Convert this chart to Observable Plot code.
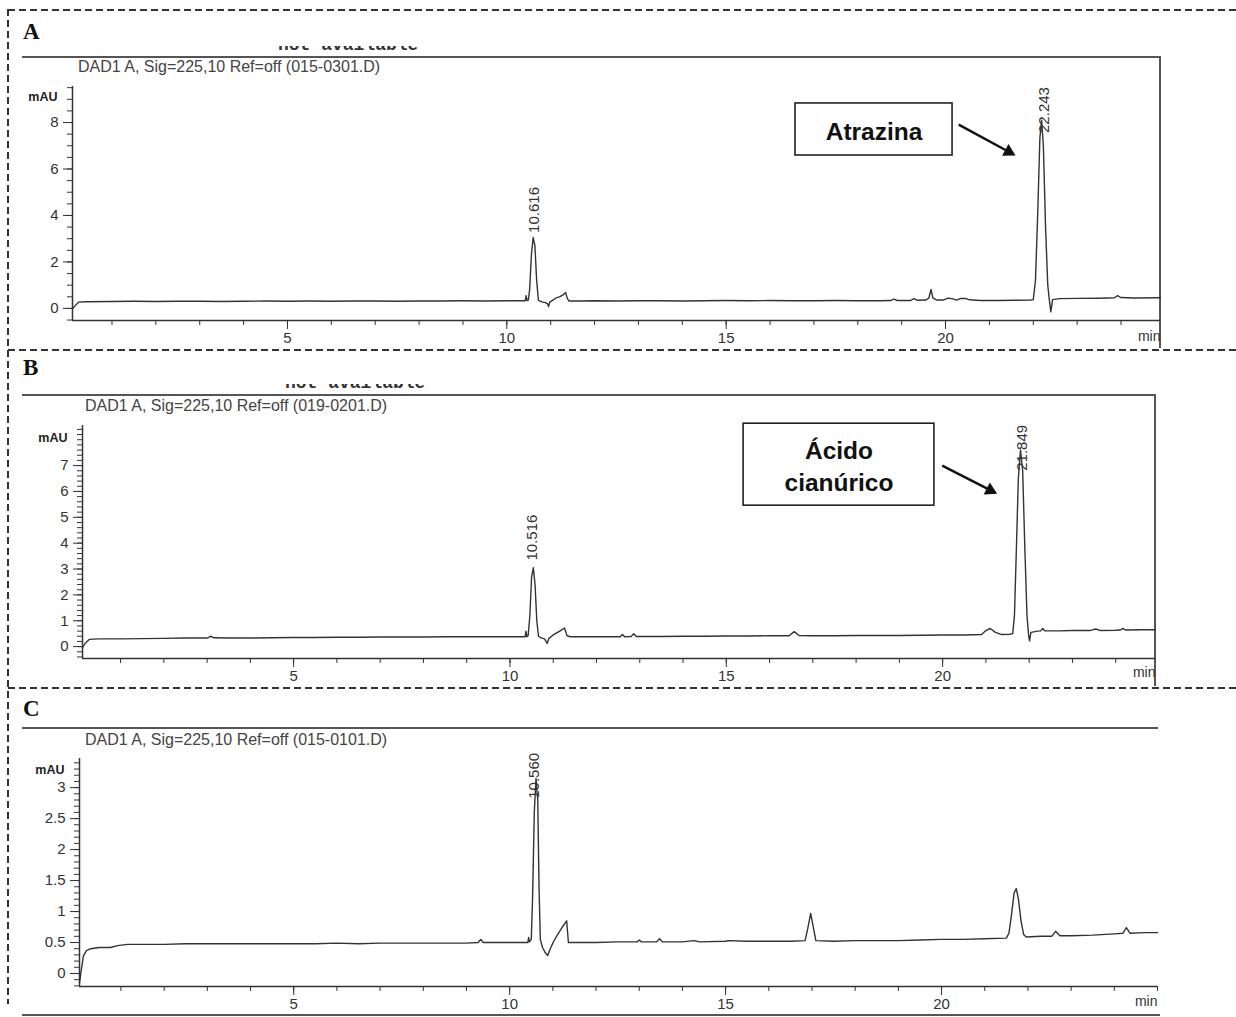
<!DOCTYPE html>
<html><head><meta charset="utf-8">
<script src="https://cdn.jsdelivr.net/npm/d3@7"></script>
<script src="https://cdn.jsdelivr.net/npm/@observablehq/plot@0.6"></script>
<style>
body{margin:0;background:#fff;}
#wrap{position:relative;width:1236px;height:1017px;overflow:hidden;font-family:"Liberation Sans",Arial,sans-serif;background:#fff;}
.hd{position:absolute;height:2px;background:repeating-linear-gradient(to right,#333 0 7px,transparent 7px 11px);}
.vd{position:absolute;width:2px;background:repeating-linear-gradient(to bottom,#333 0 7px,transparent 7px 11px);}
.letter{position:absolute;font-family:"Liberation Serif","Times New Roman",serif;font-weight:bold;font-size:23px;line-height:1;color:#111;}
.sig{position:absolute;font-size:16px;line-height:1;color:#444;white-space:nowrap;}
.fr{position:absolute;background:#555;}
.na{position:absolute;overflow:hidden;}
</style></head><body><div id="wrap"></div>
<script>
// ---------------- DATA ----------------
const panelLetters = ["A", "B", "C"];
const signalTitles = [
  "DAD1 A, Sig=225,10 Ref=off (015-0301.D)",
  "DAD1 A, Sig=225,10 Ref=off (019-0201.D)",
  "DAD1 A, Sig=225,10 Ref=off (015-0101.D)"
];
const xTickLabels = [5, 10, 15, 20];
const yTicksA = [0, 2, 4, 6, 8];
const yTicksB = [0, 1, 2, 3, 4, 5, 6, 7];
const yTicksC = [0, 0.5, 1, 1.5, 2, 2.5, 3];

// retention time (min), signal (mAU)
const traceA = [
  [0.10,-0.02],[0.16,0.12],[0.24,0.27],[0.40,0.29],[1.0,0.30],[1.5,0.31],[2.0,0.30],[2.5,0.31],[3.0,0.31],[3.5,0.30],
  [4.0,0.31],[4.5,0.32],[5.0,0.31],[5.5,0.32],[6.0,0.31],[6.5,0.32],[7.0,0.32],[7.5,0.31],[8.0,0.32],[8.5,0.32],
  [9.0,0.33],[9.5,0.32],[10.0,0.33],[10.3,0.33],[10.42,0.33],[10.44,0.55],[10.46,0.34],[10.49,0.36],[10.52,0.8],
  [10.56,2.3],[10.60,3.05],[10.64,2.7],[10.68,1.2],[10.72,0.35],[10.80,0.28],[10.88,0.25],[10.93,0.20],[10.95,0.08],
  [10.98,0.27],[11.05,0.36],[11.12,0.45],[11.20,0.50],[11.28,0.58],[11.34,0.68],[11.38,0.42],[11.42,0.32],[11.7,0.32],
  [12.0,0.33],[12.5,0.32],[13.0,0.33],[13.5,0.33],[14.0,0.32],[14.5,0.33],[15.0,0.34],[15.5,0.33],[16.0,0.34],
  [16.5,0.33],[17.0,0.33],[17.5,0.34],[18.0,0.33],[18.5,0.33],[18.75,0.34],[18.82,0.40],[18.9,0.34],[19.2,0.34],
  [19.28,0.42],[19.36,0.35],[19.55,0.36],[19.62,0.45],[19.67,0.82],[19.71,0.45],[19.8,0.36],[19.95,0.36],[20.05,0.44],
  [20.15,0.42],[20.25,0.36],[20.35,0.43],[20.45,0.43],[20.55,0.37],[20.8,0.34],[21.2,0.34],[21.6,0.35],[21.95,0.36],
  [22.00,0.38],[22.05,1.2],[22.10,4.0],[22.15,7.3],[22.19,8.1],[22.23,7.0],[22.28,3.5],[22.33,1.0],[22.37,0.3],
  [22.40,-0.15],[22.44,0.38],[22.6,0.42],[23.0,0.43],[23.5,0.44],[23.85,0.46],[23.92,0.55],[23.99,0.47],[24.3,0.45],[24.9,0.46]
];
const traceB = [
  [0.12,-0.05],[0.18,0.12],[0.28,0.28],[0.5,0.30],[1.0,0.30],[1.5,0.31],[2.0,0.32],[2.5,0.33],[3.0,0.33],[3.08,0.40],
  [3.16,0.34],[3.5,0.33],[4.0,0.33],[4.5,0.34],[5.0,0.35],[5.5,0.35],[6.0,0.36],[6.5,0.36],[7.0,0.37],[7.5,0.37],
  [8.0,0.37],[8.5,0.38],[9.0,0.38],[9.5,0.38],[10.0,0.38],[10.35,0.38],[10.37,0.6],[10.39,0.38],[10.42,0.42],
  [10.46,1.2],[10.50,2.7],[10.54,3.05],[10.58,2.4],[10.62,1.0],[10.66,0.4],[10.72,0.34],[10.80,0.30],[10.86,0.12],
  [10.90,0.32],[11.0,0.45],[11.1,0.55],[11.2,0.65],[11.26,0.72],[11.32,0.42],[11.4,0.38],[11.8,0.38],[12.2,0.38],
  [12.55,0.38],[12.6,0.47],[12.65,0.38],[12.8,0.39],[12.86,0.50],[12.92,0.39],[13.5,0.39],[14.0,0.40],[14.5,0.40],
  [15.0,0.41],[15.5,0.41],[16.0,0.42],[16.45,0.42],[16.57,0.58],[16.68,0.43],[17.0,0.42],[17.5,0.42],[18.0,0.43],
  [18.5,0.43],[19.0,0.43],[19.5,0.44],[20.0,0.45],[20.5,0.45],[20.9,0.47],[21.0,0.62],[21.1,0.70],[21.22,0.55],
  [21.35,0.47],[21.55,0.48],[21.62,0.50],[21.66,1.2],[21.70,3.5],[21.75,6.5],[21.80,7.6],[21.85,6.8],[21.90,3.8],
  [21.95,1.2],[21.99,0.4],[22.01,0.22],[22.04,0.55],[22.2,0.60],[22.27,0.61],[22.31,0.70],[22.36,0.61],[22.7,0.61],
  [23.0,0.62],[23.4,0.62],[23.54,0.68],[23.65,0.62],[24.0,0.63],[24.1,0.64],[24.16,0.70],[24.24,0.64],[24.6,0.65],[24.92,0.65]
];
const traceC = [
  [0.04,-0.15],[0.08,0.05],[0.13,0.28],[0.20,0.37],[0.30,0.40],[0.5,0.42],[0.76,0.42],[0.92,0.45],[1.15,0.47],
  [1.5,0.47],[2.0,0.47],[2.5,0.48],[3.0,0.48],[3.5,0.48],[4.0,0.48],[4.5,0.48],[5.0,0.48],[5.5,0.48],[6.0,0.49],
  [6.5,0.48],[7.0,0.49],[7.5,0.49],[8.0,0.49],[8.5,0.49],[9.0,0.49],[9.27,0.50],[9.33,0.55],[9.39,0.50],[9.8,0.50],
  [10.2,0.50],[10.42,0.50],[10.44,0.58],[10.46,0.51],[10.50,0.55],[10.53,1.2],[10.57,2.6],[10.61,3.15],[10.65,2.8],
  [10.68,1.4],[10.71,0.55],[10.76,0.42],[10.83,0.33],[10.88,0.29],[10.94,0.40],[11.02,0.52],[11.12,0.64],
  [11.22,0.75],[11.32,0.85],[11.36,0.50],[11.5,0.50],[12.0,0.50],[12.5,0.51],[12.95,0.51],[13.0,0.54],[13.05,0.51],
  [13.4,0.51],[13.47,0.56],[13.54,0.51],[14.0,0.51],[14.27,0.53],[14.4,0.51],[15.0,0.52],[15.06,0.53],[15.5,0.52],
  [16.0,0.52],[16.5,0.52],[16.84,0.53],[16.90,0.72],[16.97,0.97],[17.03,0.75],[17.09,0.53],[17.5,0.52],[18.0,0.53],
  [18.5,0.53],[19.0,0.53],[19.5,0.54],[20.0,0.55],[20.5,0.55],[21.0,0.56],[21.5,0.57],[21.56,0.65],[21.62,0.95],
  [21.68,1.30],[21.73,1.37],[21.78,1.20],[21.84,0.85],[21.90,0.63],[21.96,0.59],[22.3,0.60],[22.55,0.60],
  [22.64,0.68],[22.74,0.61],[23.0,0.61],[23.5,0.62],[24.0,0.64],[24.2,0.65],[24.28,0.74],[24.36,0.65],[24.7,0.66],[25.0,0.66]
];

const peakLabelsA = [{t: 10.616, y: 3.25, label: "10.616"}, {t: 22.243, y: 7.55, label: "22.243"}];
const peakLabelsB = [{t: 10.516, y: 3.33, label: "10.516"}, {t: 21.849, y: 6.8, label: "21.849"}];
const peakLabelsC = [{t: 10.560, y: 2.82, label: "10.560"}];

// annotation boxes and arrows (data units); arrow end = centre of its head
const boxA = [{x1: 16.58, x2: 20.16, y1: 6.58, y2: 8.82, text: "Atrazina"}];
const arrowA = [{x1: 20.30, y1: 7.91, x2: 21.44, y2: 6.74}];
const boxB = [{x1: 15.40, x2: 19.81, y1: 5.45, y2: 8.62, text: "Ácido\ncianúrico"}];
const arrowB = [{x1: 19.99, y1: 7.0, x2: 21.10, y2: 6.05}];

// ---------------- LAYOUT ----------------
const W = 1200;
const layouts = [
  {top: 50, h: 300, ml: 72, xr: 1160, mt: 36, mb: 30, xd: [0.1, 24.9], yd: [-0.52, 9.55], yStep: 0.5, mauDy: 6, minDy: 20, headRot: 118.5},
  {top: 390, h: 300, ml: 82, xr: 1155, mt: 35, mb: 32, xd: [0.12, 24.92], yd: [-0.46, 8.55], yStep: 0.2, mauDy: 8, minDy: 18, headRot: 117},
  {top: 725, h: 292, ml: 79, xr: 1157, mt: 33, mb: 31, xd: [0.04, 25.0], yd: [-0.21, 3.47], yStep: 0.1, mauDy: 7, minDy: 19, headRot: 0}
];
const panels = [
  {trace: traceA, peaks: peakLabelsA, yTicks: yTicksA, box: boxA, arrow: arrowA},
  {trace: traceB, peaks: peakLabelsB, yTicks: yTicksB, box: boxB, arrow: arrowB},
  {trace: traceC, peaks: peakLabelsC, yTicks: yTicksC, box: null, arrow: null}
];

const wrap = document.getElementById("wrap");
function div(cls, css, html) {
  const d = document.createElement("div");
  d.className = cls;
  Object.assign(d.style, css);
  if (html != null) d.innerHTML = html;
  wrap.appendChild(d);
  return d;
}

// dashed outlines
div("hd", {left: "8px", top: "9px", width: "1228px"});
div("vd", {left: "7px", top: "9px", height: "995px"});
div("hd", {left: "8px", top: "349px", width: "1228px"});
div("hd", {left: "8px", top: "687px", width: "1228px"});

// frames
div("fr", {left: "22px", top: "56px", width: "1139px", height: "2px"});
div("fr", {left: "1159px", top: "56px", width: "2px", height: "292px"});
div("fr", {left: "22px", top: "394px", width: "1134px", height: "2px"});
div("fr", {left: "1154px", top: "394px", width: "2px", height: "292px"});
div("fr", {left: "22px", top: "727px", width: "1136px", height: "2px"});
div("fr", {left: "22px", top: "1014px", width: "1138px", height: "2px"});

// panel letters and signal titles
const letterTops = [20, 356, 697];
const titlePos = [[78, 59], [85, 398], [85, 732]];
panelLetters.forEach((l, i) => div("letter", {left: "23px", top: letterTops[i] + "px"}, l));
signalTitles.forEach((s, i) => div("sig", {left: titlePos[i][0] + "px", top: titlePos[i][1] + "px"}, s));

// clipped "not available" remnants (only the lower part of the letters shows, as in the scan)
[[278, 46], [285, 384]].forEach(([x, y]) => {
  div("na", {left: x + "px", top: y + "px", width: "150px", height: "4px"},
    '<svg width="150" height="4" style="display:block"><text x="0" y="4" font-family="Liberation Mono, Courier New, monospace" font-weight="bold" font-size="18" fill="#333">not available</text></svg>');
});

panels.forEach((p, i) => {
  const L = layouts[i];
  const fmt = d => String(d);
  const marks = [
    Plot.ruleX([L.xd[0]], {stroke: "#333", strokeWidth: 1.5}),
    Plot.ruleY([L.yd[0]], {stroke: "#333", strokeWidth: 1.5}),
    Plot.axisY({ticks: d3.range(Math.ceil(L.yd[0] / L.yStep) * L.yStep, L.yd[1], L.yStep), tickSize: 5, tickFormat: () => "", label: null}),
    Plot.axisY({ticks: p.yTicks, tickSize: 9, tickPadding: 5, tickFormat: fmt, fontSize: 15, label: null}),
    Plot.axisX({ticks: d3.range(1, Math.floor(L.xd[1]) + 1), tickSize: 5, tickFormat: () => "", label: null}),
    Plot.axisX({ticks: xTickLabels, tickSize: 9, tickPadding: 3, tickFormat: fmt, fontSize: 15, label: null}),
    Plot.text(["mAU"], {frameAnchor: "top-left", dx: -15, dy: L.mauDy, textAnchor: "end", fontSize: 12.5, fontWeight: "bold", fill: "#222"}),
    Plot.text(["min"], {frameAnchor: "bottom-right", dy: L.minDy, textAnchor: "end", fontSize: 14, fill: "#333"}),
    Plot.line(p.trace, {x: d => d[0], y: d => d[1], stroke: "#333", strokeWidth: 1.4}),
    Plot.text(p.peaks, {x: "t", y: "y", text: "label", rotate: -90, textAnchor: "start", fontSize: 15, fill: "#333"})
  ];
  if (p.box) {
    marks.push(
      Plot.rect(p.box, {x1: "x1", x2: "x2", y1: "y1", y2: "y2", fill: "white", stroke: "#222", strokeWidth: 1.6}),
      Plot.text(p.box, {x: d => (d.x1 + d.x2) / 2, y: d => (d.y1 + d.y2) / 2, text: "text", fontSize: 24.5, fontWeight: "bold", fill: "#111", lineHeight: 1.3}),
      Plot.link(p.arrow, {x1: "x1", y1: "y1", x2: "x2", y2: "y2", stroke: "#111", strokeWidth: 2.4}),
      Plot.dot(p.arrow, {x: "x2", y: "y2", symbol: "triangle", r: 5, fill: "#111", stroke: "none", rotate: L.headRot})
    );
  }
  const svg = Plot.plot({
    width: W, height: L.h,
    marginLeft: L.ml, marginRight: W - L.xr, marginTop: L.mt, marginBottom: L.mb,
    x: {domain: L.xd},
    y: {domain: L.yd},
    style: {background: "transparent", color: "#333", fontFamily: "'Liberation Sans', Arial, sans-serif", overflow: "visible"},
    marks
  });
  svg.style.position = "absolute";
  svg.style.left = "0px";
  svg.style.top = L.top + "px";
  wrap.appendChild(svg);
});
</script>
</body></html>
